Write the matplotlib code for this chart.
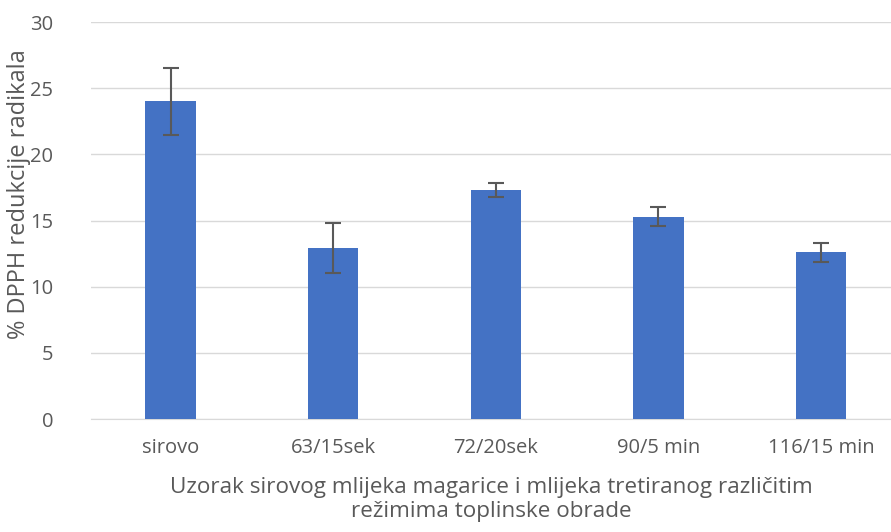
import matplotlib.pyplot as plt
import numpy as np

plt.rcParams['font.family'] = ['Open Sans', 'DejaVu Sans']

categories = ['sirovo', '63/15sek', '72/20sek', '90/5 min', '116/15 min']
values = [24.0, 12.9, 17.3, 15.3, 12.6]
errors = [2.5, 1.9, 0.5, 0.75, 0.7]
yticks = [0, 5, 10, 15, 20, 25, 30]

text_col = '#595959'

fig = plt.figure(figsize=(8.91, 5.32), dpi=100)
ax = fig.add_axes([0.102, 0.2124, 0.898, 0.7462])

x = np.arange(len(categories))
ax.bar(x, values, width=0.31, color='#4472C4', zorder=3)
ax.errorbar(x, values, yerr=errors, fmt='none', ecolor='#595959',
            elinewidth=1.5, capsize=6, capthick=1.5, zorder=4)

ax.set_xlim(-0.49, 4.43)
ax.set_ylim(0, 30)
ax.set_yticks(yticks)
ax.set_xticks(x)
ax.set_xticklabels(categories)
ax.grid(axis='y', color='#D9D9D9', linewidth=1, zorder=0)
for s in ['top', 'right', 'left']:
    ax.spines[s].set_visible(False)
ax.spines['bottom'].set_color('#D9D9D9')
ax.tick_params(axis='both', length=0, labelsize=14.5, colors=text_col)
ax.tick_params(axis='y', pad=27)
ax.tick_params(axis='x', pad=14)

fig.text(0.021, 0.635, '% DPPH redukcije radikala', rotation=90, fontsize=17,
         color=text_col, ha='center', va='center')
ax.set_xlabel('Uzorak sirovog mlijeka magarice i mlijeka tretiranog različitim\nrežimima toplinske obrade',
              fontsize=16.2, color=text_col, labelpad=13, linespacing=1.2)

fig.savefig('out.png', dpi=100)
